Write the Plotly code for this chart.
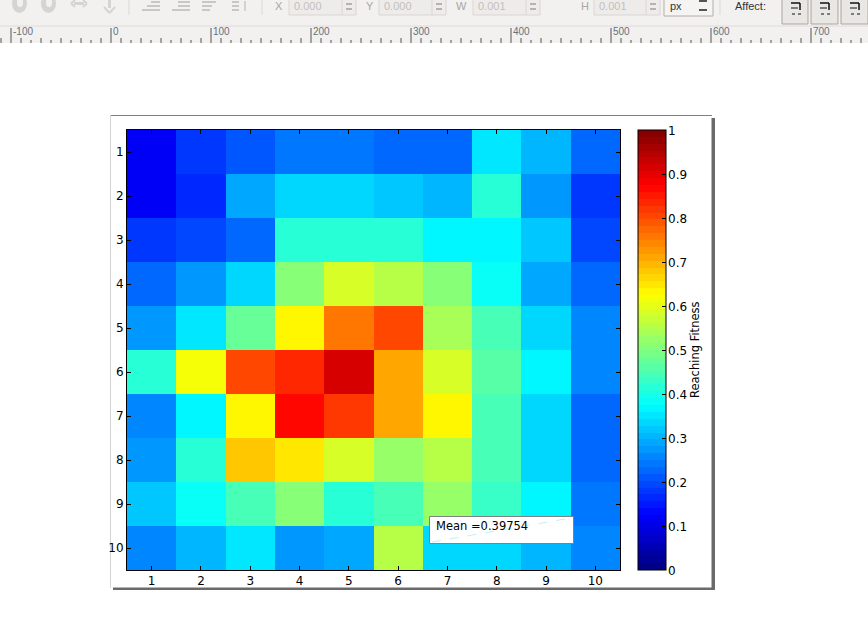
import numpy as np
import plotly.graph_objects as go

W, H = 868, 637

rows = ["1", "2", "3", "4", "5", "6", "7", "8", "9", "10"]
cols = ["1", "2", "3", "4", "5", "6", "7", "8", "9", "10"]
row1 = [.12, .185, .21, .24, .24, .22, .22, .35, .31, .23]
row2 = [.12, .16, .29, .34, .34, .32, .30, .42, .27, .18]
row3 = [.18, .20, .22, .41, .42, .42, .36, .36, .32, .20]
row4 = [.22, .27, .34, .50, .58, .55, .51, .38, .29, .22]
row5 = [.28, .35, .48, .63, .75, .80, .54, .44, .34, .26]
row6 = [.42, .61, .80, .835, .91, .705, .58, .46, .36, .26]
row7 = [.26, .37, .63, .87, .82, .705, .635, .45, .33, .23]
row8 = [.28, .41, .68, .65, .59, .53, .55, .44, .34, .22]
row9 = [.32, .38, .45, .51, .42, .44, .52, .43, .37, .24]
row10 = [.25, .31, .35, .27, .29, .55, .34, .33, .31, .26]
values = [row1, row2, row3, row4, row5, row6, row7, row8, row9, row10]
cbar_ticks = [0, .1, .2, .3, .4, .5, .6, .7, .8, .9, 1]
cbar_labels = ["0", "0.1", "0.2", "0.3", "0.4", "0.5", "0.6", "0.7", "0.8", "0.9", "1"]
ruler_labels = ["-100", "0", "100", "200", "300", "400", "500", "600", "700"]
field_labels = ["X", "Y", "W", "H"]
field_values = ["0.000", "0.000", "0.001", "0.001"]
mean_text = "Mean =0.39754"
FONT = "DejaVu Sans"


def jet(v):
    r = np.clip(min(4 * v - 1.5, -4 * v + 4.5), 0, 1)
    g = np.clip(min(4 * v - 0.5, -4 * v + 3.5), 0, 1)
    b = np.clip(min(4 * v + 0.5, -4 * v + 2.5), 0, 1)
    return f"rgb({int(r*255)},{int(g*255)},{int(b*255)})"


N = 64
scale = []
for i in range(N):
    c = jet((i + .5) / N)
    scale += [[i / N, c], [(i + 1) / N, c]]


def px(x):
    return x / W


def py(y):
    return 1 - y / H


shapes, notes = [], []


def rect(x0, y0, x1, y1, fill="rgba(0,0,0,0)", line=None, lw=1, layer="below", kind="rect"):
    shapes.append(dict(type=kind, xref="paper", yref="paper", x0=px(x0), x1=px(x1), y0=py(y0), y1=py(y1),
                       fillcolor=fill, line=dict(color=line or "rgba(0,0,0,0)", width=lw if line else 0), layer=layer))


def seg(x0, y0, x1, y1, color, lw=1, layer="below", dash="solid"):
    shapes.append(dict(type="line", xref="paper", yref="paper", x0=px(x0), x1=px(x1), y0=py(y0), y1=py(y1),
                       line=dict(color=color, width=lw, dash=dash), layer=layer))


def text(x, y, s, size=12, color="#000000", anchor="left", family=FONT, angle=0):
    notes.append(dict(xref="paper", yref="paper", x=px(x), y=py(y), text=s, showarrow=False, xanchor=anchor,
                      yanchor="middle", font=dict(size=size, color=color, family=family),
                      borderpad=0, borderwidth=0, textangle=angle))


# window chrome
rect(0, 0, W, 43, fill="#f2f1f0")
seg(0, 26, W, 26, "#dedcd9", 1)
for x in (129, 262, 720):
    seg(x, 0, x, 15, "#dbd9d5", 1)

# greyed-out toolbar icons
GI = "#d6d4d0"
rect(12, -6, 27, 13, fill=GI, kind="circle")
rect(17, -2, 23, 7, fill="#f2f1f0", kind="circle")
rect(41, -6, 56, 13, fill=GI, kind="circle")
rect(46, -2, 52, 7, fill="#f2f1f0", kind="circle")
rect(74, 2, 84, 5, fill=GI)
seg(71, 3.5, 75, 0, GI, 2)
seg(71, 3.5, 75, 7, GI, 2)
seg(87, 3.5, 83, 0, GI, 2)
seg(87, 3.5, 83, 7, GI, 2)
rect(108, 0, 111, 8, fill=GI)
seg(104, 7, 109.5, 13, GI, 2)
seg(115, 7, 109.5, 13, GI, 2)
for x0, widths in ((142, (9, 13, 18)), (172, (12, 12, 18)), (202, (14, 10, 8)), (232, (7, 7, 7))):
    for y, w in zip((1, 5, 9), widths):
        rect(x0 + (18 - w if x0 < 200 else 0), y, x0 + (18 if x0 < 200 else w), y + 2, fill="#c9c7c3")
seg(245, 1, 245, 11, "#c9c7c3", 1.5)

# entry fields
boxes = [(289, 356), (379, 446), (473, 540), (594, 660)]
label_x = [275, 366, 456, 581]
for (x0, x1), lx, lab, val in zip(boxes, label_x, field_labels, field_values):
    rect(x0, -5, x1, 15, fill="#eeecea", line="#d9d6d2")
    seg(x1 - 14, 0, x1 - 14, 15, "#d9d6d2")
    text(x0 + 5, 6, val, 11, "#c2c0bc", family="Liberation Sans")
    text(lx, 6, lab, 11, "#a8a6a2", family="Liberation Sans")
    seg(x1 - 10, 4, x1 - 4, 4, "#b5b3af", 2)
    seg(x1 - 10, 9, x1 - 4, 9, "#b5b3af", 2)
rect(664, -5, 713, 16, fill="#f5f4f3", line="#b3afa8")
text(670, 6, "px", 11, "#2e3436", family="Liberation Sans")
seg(699, 1, 707, 1, "#555555", 2)
seg(699, 10, 707, 10, "#555555", 2)
text(735, 6, "Affect:", 11, "#2e3436", family="Liberation Sans")
for x0, x1 in ((782, 808), (811, 838), (841, 868)):
    rect(x0, -5, x1, 24, fill="#e9e7e3", line="#aaa69f")
    seg(x0 + 9, 3, x0 + 18, 3, "#111111", 1.5)
    seg(x0 + 18, 3, x0 + 18, 10, "#111111", 1.5)
    seg(x0 + 9, 8, x0 + 16, 8, "#111111", 1)
    seg(x0 + 10, 14, x0 + 20, 14, "#111111", 1, dash="dot")

# ruler
for i, lab in enumerate(ruler_labels):
    x = 11 + 100 * i
    seg(x, 28, x, 43, "#555555", 1)
    text(x + 1.5, 32, lab, 10, "#66707c", family="Liberation Sans")
for x in range(1, W, 10):
    if (x - 11) % 100:
        seg(x, 38 if (x - 11) % 20 == 10 else 40, x, 43, "#555555", 1)

# figure page and shadow
rect(113, 118, 715, 590, fill="#6a6a6a")
rect(110.5, 115.5, 711.5, 587.5, fill="#ffffff")
seg(110, 115.5, 712, 115.5, "#808080", 1)
seg(110.5, 115, 110.5, 588, "#d4d4d4", 1)

# mean box
rect(429.5, 516.5, 573.5, 543.5, fill="#ffffff", line="#808080", lw=1, layer="above")
seg(432, 542, 571, 518, "#bdf2f7", 1, layer="above", dash="dash")
text(436, 526, mean_text, 11.5)
text(695, 350, "Reaching Fitness", 11.5, anchor="center", angle=-90)
for v, lab in zip(cbar_ticks, cbar_labels):
    text(667.5, 571 - 440 * v, lab, 12)

fig = go.Figure(go.Heatmap(
    z=values, x=cols, y=rows, zmin=0, zmax=1, colorscale=scale, xgap=0, ygap=0,
    hoverinfo="skip",
    colorbar=dict(
        x=px(638), xanchor="left", xpad=0, y=py(570), yanchor="bottom", ypad=0,
        lenmode="pixels", len=440, thicknessmode="pixels", thickness=28,
        outlinecolor="#000000", outlinewidth=1, tickvals=cbar_ticks, showticklabels=False,
        ticks="inside", ticklen=4, tickcolor="#000000", tickwidth=1,
    ),
))
axis = dict(showgrid=False, zeroline=False, showline=True, linecolor="#000000", linewidth=1, mirror="ticks",
            ticks="inside", ticklen=4, tickwidth=1, tickcolor="#000000", type="category",
            tickfont=dict(family=FONT, size=12, color="#000000"))
fig.update_layout(
    width=W, height=H, margin=dict(l=0, r=0, t=0, b=0), autosize=False,
    paper_bgcolor="#ffffff", plot_bgcolor="rgba(0,0,0,0)", shapes=shapes, annotations=notes, showlegend=False,
    xaxis=dict(axis, domain=[px(127), px(620)], anchor="y"),
    yaxis=dict(axis, domain=[py(570), py(130)], anchor="x", autorange="reversed"),
)
fig.write_html("out.html", config=dict(displayModeBar=False),
               post_script="document.body.style.margin='0';document.body.style.overflow='hidden';")
